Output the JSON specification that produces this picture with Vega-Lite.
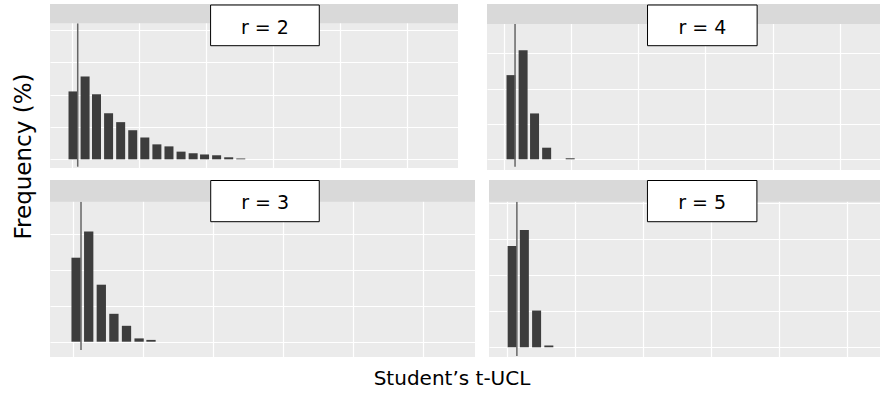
{
  "$schema": "https://vega.github.io/schema/vega-lite/v6.json",
  "padding": {"left": 12, "top": 4, "right": 0, "bottom": 0},
  "title": {"text": "Frequency (%)", "orient": "left", "fontSize": 23, "fontWeight": "normal", "font": "DejaVu Sans", "color": "#000000", "anchor": "middle", "offset": 14, "dx": 40},
  "datasets": {
    "bars": [
      {"r": 2, "ucl": 0.02, "freq": 16.8}, {"r": 2, "ucl": 0.2, "freq": 20.5}, {"r": 2, "ucl": 0.37, "freq": 16.1},
      {"r": 2, "ucl": 0.55, "freq": 11.4}, {"r": 2, "ucl": 0.73, "freq": 9.2}, {"r": 2, "ucl": 0.91, "freq": 7.2},
      {"r": 2, "ucl": 1.09, "freq": 5.4}, {"r": 2, "ucl": 1.27, "freq": 3.7}, {"r": 2, "ucl": 1.45, "freq": 3.2},
      {"r": 2, "ucl": 1.63, "freq": 1.9}, {"r": 2, "ucl": 1.81, "freq": 1.5}, {"r": 2, "ucl": 1.98, "freq": 1.2},
      {"r": 2, "ucl": 2.16, "freq": 1.0}, {"r": 2, "ucl": 2.34, "freq": 0.5}, {"r": 2, "ucl": 2.52, "freq": 0.2},
      {"r": 3, "ucl": 0.04, "freq": 28.0}, {"r": 3, "ucl": 0.22, "freq": 36.7}, {"r": 3, "ucl": 0.4, "freq": 19.0},
      {"r": 3, "ucl": 0.58, "freq": 9.3}, {"r": 3, "ucl": 0.76, "freq": 5.3}, {"r": 3, "ucl": 0.94, "freq": 1.1},
      {"r": 3, "ucl": 1.11, "freq": 0.6},
      {"r": 4, "ucl": 0.11, "freq": 33.4}, {"r": 4, "ucl": 0.29, "freq": 43.3}, {"r": 4, "ucl": 0.46, "freq": 18.2},
      {"r": 4, "ucl": 0.64, "freq": 4.6}, {"r": 4, "ucl": 0.99, "freq": 0.4},
      {"r": 5, "ucl": 0.08, "freq": 39.4}, {"r": 5, "ucl": 0.26, "freq": 45.6}, {"r": 5, "ucl": 0.44, "freq": 14.3},
      {"r": 5, "ucl": 0.62, "freq": 0.7}
    ],
    "truth": [
      {"r": 2, "ucl": 0.09}, {"r": 3, "ucl": 0.11}, {"r": 4, "ucl": 0.17}, {"r": 5, "ucl": 0.15}
    ],
    "labels": [
      {"r": 2, "label": "r = 2"}, {"r": 3, "label": "r = 3"}, {"r": 4, "label": "r = 4"}, {"r": 5, "label": "r = 5"}
    ]
  },
  "vconcat": [
    {
      "title": {"text": "Student’s t-UCL", "orient": "bottom", "fontSize": 20, "fontWeight": "normal", "font": "DejaVu Sans", "color": "#000000", "anchor": "middle", "offset": 12, "dx": -13},
      "spacing": 10,
      "vconcat": [
        {
          "spacing": 29,
          "hconcat": [
            {
              "width": 408, "height": 164,
              "layer": [
                {
                  "data": {"name": "bars"}, "transform": [{"filter": "datum.r == 2"}],
                  "mark": {"type": "bar", "size": 9, "color": "#3d3d3d"},
                  "encoding": {
                    "x": {"field": "ucl", "type": "quantitative", "title": null, "scale": {"domain": [-0.323, 5.757], "nice": false, "zero": false, "padding": 0},
                          "axis": {"values": [0, 0.5, 1, 1.5, 2, 2.5, 3, 3.5, 4, 4.5, 5, 5.5], "gridOpacity": {"condition": {"test": "datum.value % 1 !== 0", "value": 0.6}, "value": 1}}},
                    "y": {"field": "freq", "type": "quantitative", "title": null, "scale": {"domain": [-2.15, 38.44], "nice": false, "zero": false, "padding": 0},
                          "axis": {"values": [0, 2, 4, 6, 8, 10, 12, 14, 16, 18, 20, 22, 24, 26, 28, 30, 32], "gridOpacity": {"condition": {"test": "datum.value % 4 !== 0", "value": 0.6}, "value": 1}}}
                  }
                },
                {
                  "data": {"name": "truth"}, "transform": [{"filter": "datum.r == 2"}],
                  "mark": {"type": "rule", "color": "#666666", "strokeWidth": 1.5},
                  "encoding": {"x": {"field": "ucl", "type": "quantitative"}, "y": {"datum": 33.66}, "y2": {"datum": -1.83}}
                },
                {
                  "data": {"name": "labels"}, "transform": [{"filter": "datum.r == 2"}],
                  "mark": {"type": "rect", "color": "#d9d9d9"},
                  "encoding": {"x": {"datum": -0.323}, "x2": {"datum": 5.757}, "y": {"datum": 38.44}, "y2": {"datum": 33.66}}
                },
                {
                  "data": {"name": "labels"}, "transform": [{"filter": "datum.r == 2"}],
                  "mark": {"type": "rect", "fill": "#ffffff", "stroke": "#000000", "strokeWidth": 1},
                  "encoding": {"x": {"datum": 2.07}, "x2": {"datum": 3.69}, "y": {"datum": 38.19}, "y2": {"datum": 28.12}}
                },
                {
                  "data": {"name": "labels"}, "transform": [{"filter": "datum.r == 2"}],
                  "mark": {"type": "text", "fontSize": 19, "font": "DejaVu Sans", "color": "#000000", "align": "center", "baseline": "middle"},
                  "encoding": {"x": {"datum": 2.88}, "y": {"datum": 32.5}, "text": {"field": "label"}}
                }
              ]
            },
            {
              "width": 393, "height": 166,
              "layer": [
                {
                  "data": {"name": "bars"}, "transform": [{"filter": "datum.r == 4"}],
                  "mark": {"type": "bar", "size": 9, "color": "#3d3d3d"},
                  "encoding": {
                    "x": {"field": "ucl", "type": "quantitative", "title": null, "scale": {"domain": [-0.247, 5.597], "nice": false, "zero": false, "padding": 0},
                          "axis": {"values": [0, 0.5, 1, 1.5, 2, 2.5, 3, 3.5, 4, 4.5, 5, 5.5], "gridOpacity": {"condition": {"test": "datum.value % 1 !== 0", "value": 0.6}, "value": 1}}},
                    "y": {"field": "freq", "type": "quantitative", "title": null, "scale": {"domain": [-4.25, 61.63], "nice": false, "zero": false, "padding": 0},
                          "axis": {"values": [0, 3.5, 7, 10.5, 14, 17.5, 21, 24.5, 28, 31.5, 35, 38.5, 42, 45.5, 49, 52.5], "gridOpacity": {"condition": {"test": "datum.value % 7 !== 0", "value": 0.6}, "value": 1}}}
                  }
                },
                {
                  "data": {"name": "truth"}, "transform": [{"filter": "datum.r == 4"}],
                  "mark": {"type": "rule", "color": "#666666", "strokeWidth": 1.5},
                  "encoding": {"x": {"field": "ucl", "type": "quantitative"}, "y": {"datum": 53.69}, "y2": {"datum": -2.94}}
                },
                {
                  "data": {"name": "labels"}, "transform": [{"filter": "datum.r == 4"}],
                  "mark": {"type": "rect", "color": "#d9d9d9"},
                  "encoding": {"x": {"datum": -0.247}, "x2": {"datum": 5.597}, "y": {"datum": 61.63}, "y2": {"datum": 53.69}}
                },
                {
                  "data": {"name": "labels"}, "transform": [{"filter": "datum.r == 4"}],
                  "mark": {"type": "rect", "fill": "#ffffff", "stroke": "#000000", "strokeWidth": 1},
                  "encoding": {"x": {"datum": 2.14}, "x2": {"datum": 3.77}, "y": {"datum": 61.23}, "y2": {"datum": 45.08}}
                },
                {
                  "data": {"name": "labels"}, "transform": [{"filter": "datum.r == 4"}],
                  "mark": {"type": "text", "fontSize": 19, "font": "DejaVu Sans", "color": "#000000", "align": "center", "baseline": "middle"},
                  "encoding": {"x": {"datum": 2.955}, "y": {"datum": 52.1}, "text": {"field": "label"}}
                }
              ]
            }
          ]
        },
        {
          "spacing": 14,
          "hconcat": [
            {
              "width": 425, "height": 177,
              "layer": [
                {
                  "data": {"name": "bars"}, "transform": [{"filter": "datum.r == 3"}],
                  "mark": {"type": "bar", "size": 9.3, "color": "#3d3d3d"},
                  "encoding": {
                    "x": {"field": "ucl", "type": "quantitative", "title": null, "scale": {"domain": [-0.333, 5.739], "nice": false, "zero": false, "padding": 0},
                          "axis": {"values": [0, 0.5, 1, 1.5, 2, 2.5, 3, 3.5, 4, 4.5, 5, 5.5], "gridOpacity": {"condition": {"test": "datum.value % 1 !== 0", "value": 0.6}, "value": 1}}},
                    "y": {"field": "freq", "type": "quantitative", "title": null, "scale": {"domain": [-5.1, 53.9], "nice": false, "zero": false, "padding": 0},
                          "axis": {"values": [0, 3, 6, 9, 12, 15, 18, 21, 24, 27, 30, 33, 36, 39, 42, 45], "gridOpacity": {"condition": {"test": "datum.value % 6 !== 0", "value": 0.6}, "value": 1}}}
                  }
                },
                {
                  "data": {"name": "truth"}, "transform": [{"filter": "datum.r == 3"}],
                  "mark": {"type": "rule", "color": "#666666", "strokeWidth": 1.5},
                  "encoding": {"x": {"field": "ucl", "type": "quantitative"}, "y": {"datum": 46.67}, "y2": {"datum": -2.77}}
                },
                {
                  "data": {"name": "labels"}, "transform": [{"filter": "datum.r == 3"}],
                  "mark": {"type": "rect", "color": "#d9d9d9"},
                  "encoding": {"x": {"datum": -0.333}, "x2": {"datum": 5.739}, "y": {"datum": 53.9}, "y2": {"datum": 46.67}}
                },
                {
                  "data": {"name": "labels"}, "transform": [{"filter": "datum.r == 3"}],
                  "mark": {"type": "rect", "fill": "#ffffff", "stroke": "#000000", "strokeWidth": 1},
                  "encoding": {"x": {"datum": 1.963}, "x2": {"datum": 3.514}, "y": {"datum": 53.73}, "y2": {"datum": 40.0}}
                },
                {
                  "data": {"name": "labels"}, "transform": [{"filter": "datum.r == 3"}],
                  "mark": {"type": "text", "fontSize": 19, "font": "DejaVu Sans", "color": "#000000", "align": "center", "baseline": "middle"},
                  "encoding": {"x": {"datum": 2.74}, "y": {"datum": 46.07}, "text": {"field": "label"}}
                }
              ]
            },
            {
              "width": 391, "height": 177,
              "layer": [
                {
                  "data": {"name": "bars"}, "transform": [{"filter": "datum.r == 5"}],
                  "mark": {"type": "bar", "size": 9, "color": "#3d3d3d"},
                  "encoding": {
                    "x": {"field": "ucl", "type": "quantitative", "title": null, "scale": {"domain": [-0.26, 5.49], "nice": false, "zero": false, "padding": 0},
                          "axis": {"values": [0, 0.5, 1, 1.5, 2, 2.5, 3, 3.5, 4, 4.5, 5], "gridOpacity": {"condition": {"test": "datum.value % 1 !== 0", "value": 0.6}, "value": 1}}},
                    "y": {"field": "freq", "type": "quantitative", "title": null, "scale": {"domain": [-3.77, 65.1], "nice": false, "zero": false, "padding": 0},
                          "axis": {"values": [0, 3.5, 7, 10.5, 14, 17.5, 21, 24.5, 28, 31.5, 35, 38.5, 42, 45.5, 49, 52.5, 56], "gridOpacity": {"condition": {"test": "datum.value % 7 !== 0", "value": 0.6}, "value": 1}}}
                  }
                },
                {
                  "data": {"name": "truth"}, "transform": [{"filter": "datum.r == 5"}],
                  "mark": {"type": "rule", "color": "#666666", "strokeWidth": 1.5},
                  "encoding": {"x": {"field": "ucl", "type": "quantitative"}, "y": {"datum": 56.65}, "y2": {"datum": -3.39}}
                },
                {
                  "data": {"name": "labels"}, "transform": [{"filter": "datum.r == 5"}],
                  "mark": {"type": "rect", "color": "#d9d9d9"},
                  "encoding": {"x": {"datum": -0.26}, "x2": {"datum": 5.49}, "y": {"datum": 65.1}, "y2": {"datum": 56.65}}
                },
                {
                  "data": {"name": "labels"}, "transform": [{"filter": "datum.r == 5"}],
                  "mark": {"type": "rect", "fill": "#ffffff", "stroke": "#000000", "strokeWidth": 1},
                  "encoding": {"x": {"datum": 2.07}, "x2": {"datum": 3.68}, "y": {"datum": 64.9}, "y2": {"datum": 48.87}}
                },
                {
                  "data": {"name": "labels"}, "transform": [{"filter": "datum.r == 5"}],
                  "mark": {"type": "text", "fontSize": 19, "font": "DejaVu Sans", "color": "#000000", "align": "center", "baseline": "middle"},
                  "encoding": {"x": {"datum": 2.875}, "y": {"datum": 56.15}, "text": {"field": "label"}}
                }
              ]
            }
          ]
        }
      ]
    }
  ],
  "config": {
    "view": {"fill": "#ebebeb", "stroke": null},
    "font": "DejaVu Sans",
    "scale": {"continuousPadding": 0},
    "axis": {"labels": false, "ticks": false, "domain": false, "grid": true, "gridColor": "#ffffff", "gridWidth": 1.2}
  }
}
